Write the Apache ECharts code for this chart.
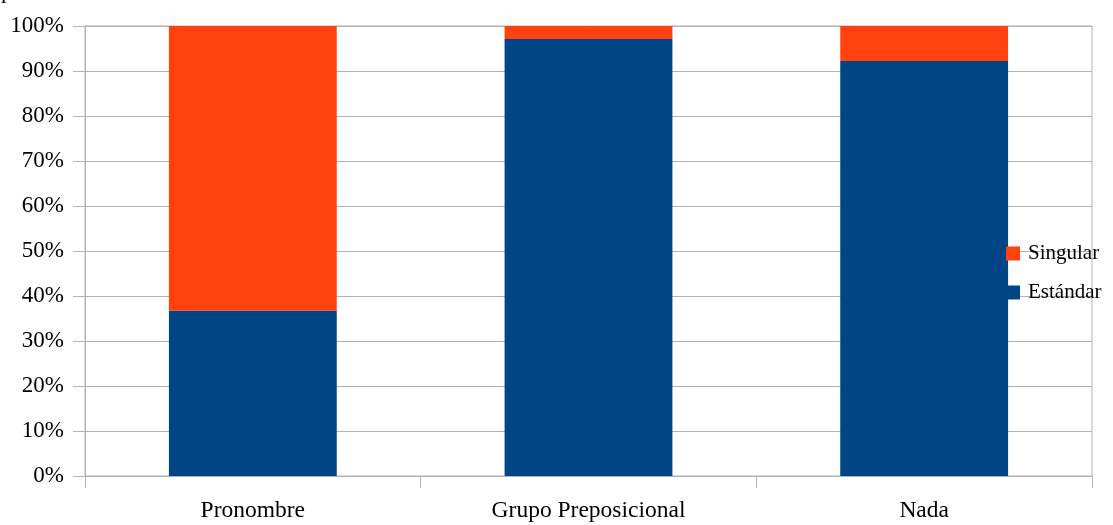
<!DOCTYPE html>
<html>
<head>
<meta charset="utf-8">
<script src="https://cdn.jsdelivr.net/npm/echarts@6/dist/echarts.min.js"></script>
<style>
html,body{margin:0;padding:0;background:#fff;}
#c{width:1113px;height:525px;}
</style>
</head>
<body>
<div id="c"></div>
<script>
const categories = ['Pronombre', 'Grupo Preposicional', 'Nada'];
const seriesNames = ['Estándar', 'Singular'];
const estandar = [36.7, 97.1, 92.2];
const singular = [63.3, 2.9, 7.8];
const legendOrder = ['Singular', 'Estándar'];

const FONT = '"Liberation Serif", "DejaVu Serif", serif';
const GRID = '#b3b3b3';

const chart = echarts.init(document.getElementById('c'), null, {renderer: 'canvas'});
chart.setOption({
  animation: false,
  backgroundColor: '#ffffff',
  textStyle: {fontFamily: FONT},
  graphic: [{
    type: 'text', left: 1, top: -20,
    style: {text: 'p', font: '23px ' + FONT, fill: '#000'}
  }],
  grid: {left: 85, right: 21, top: 26, bottom: 49, show: true, borderColor: GRID, borderWidth: 1},
  legend: {
    orient: 'vertical', left: 1001, top: 238,
    data: legendOrder,
    itemWidth: 14, itemHeight: 14, itemGap: 18,
    icon: 'rect',
    textStyle: {fontFamily: FONT, fontSize: 21, color: '#000', padding: [0, 0, 0, 3]}
  },
  xAxis: {
    type: 'category', data: categories, boundaryGap: true,
    axisLine: {lineStyle: {color: GRID, width: 1}},
    axisTick: {show: true, length: 12, lineStyle: {color: GRID}},
    axisLabel: {fontFamily: FONT, fontSize: 23.5, color: '#000', margin: 23}
  },
  yAxis: {
    type: 'value', min: 0, max: 100, interval: 10,
    axisLine: {show: true, lineStyle: {color: GRID, width: 1}},
    axisTick: {show: true, length: 12, lineStyle: {color: GRID}},
    axisLabel: {fontFamily: FONT, fontSize: 23, color: '#000', margin: 21, formatter: '{value}%'},
    splitLine: {show: true, lineStyle: {color: GRID, width: 1}}
  },
  series: [
    {name: seriesNames[0], type: 'bar', stack: 'a', data: estandar, barWidth: '50%', itemStyle: {color: '#004586'}},
    {name: seriesNames[1], type: 'bar', stack: 'a', data: singular, barWidth: '50%', itemStyle: {color: '#ff420e'}}
  ]
});
</script>
</body>
</html>
